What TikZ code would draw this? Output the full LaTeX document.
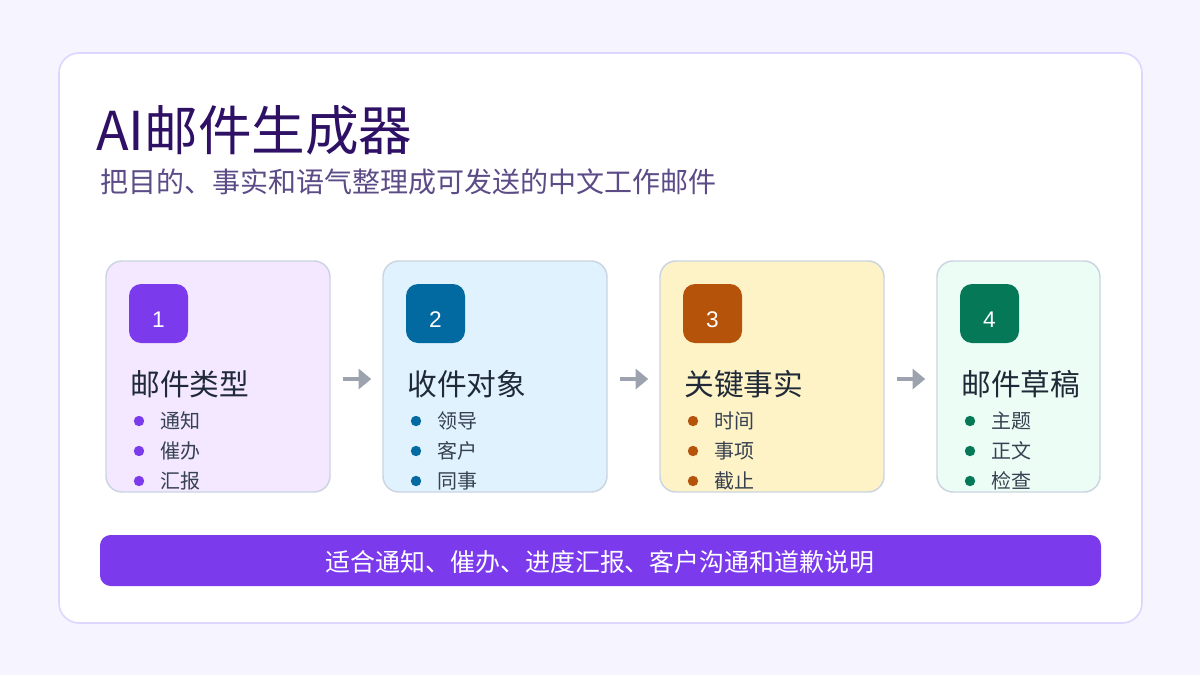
\documentclass[tikz,border=0pt]{standalone}
\usepackage{fontspec}
\setmainfont{Noto Sans CJK SC}
\newfontfamily\numfont{Liberation Sans}
\usetikzlibrary{arrows.meta,fit}
\definecolor{bg}{HTML}{F6F4FE}
\definecolor{cardline}{HTML}{DDD6FE}
\definecolor{titlec}{HTML}{2E1065}
\definecolor{subc}{HTML}{5B4B86}
\definecolor{boxline}{HTML}{CBD5E1}
\definecolor{headc}{HTML}{1F2937}
\definecolor{itemc}{HTML}{374151}
\definecolor{arrc}{HTML}{9CA3AF}
\definecolor{f1}{HTML}{F3E8FF}\definecolor{a1}{HTML}{7C3AED}
\definecolor{f2}{HTML}{E0F2FE}\definecolor{a2}{HTML}{0369A1}
\definecolor{f3}{HTML}{FEF3C7}\definecolor{a3}{HTML}{B45309}
\definecolor{f4}{HTML}{ECFDF5}\definecolor{a4}{HTML}{047857}
\tikzset{
  stepcard/.style={draw=boxline, line width=1.1pt, rounded corners=12pt, inner sep=0pt},
  badge/.style={rectangle, rounded corners=9pt, minimum size=44.25pt, inner sep=0pt},
  numtxt/.style={inner sep=0pt, text=white, font=\numfont\fontsize{17pt}{17pt}\selectfont},
  headtxt/.style={anchor=west, inner sep=0pt, text=headc, font=\fontsize{22.3pt}{22.3pt}\selectfont},
  itemtxt/.style={anchor=west, inner sep=0pt, text=itemc, font=\fontsize{15pt}{15pt}\selectfont},
  arr/.style={draw=arrc, line width=3pt, -{Triangle[length=9.5pt,width=15pt]}},
}
\begin{document}
\begin{tikzpicture}[x=0.75pt,y=-0.75pt]
\useasboundingbox[fill=bg] (0,0) rectangle (1200,675);
\node[fit={(59,53)(1142,623)}, inner sep=0pt, draw=cardline, fill=white, rounded corners=15pt, line width=1.2pt] (card) {};
\node[anchor=base west, inner sep=0pt, text=titlec, font=\fontsize{40.2pt}{40.2pt}\selectfont] (title) at (96,150) {AI邮件生成器};
\node[anchor=base west, inner sep=0pt, text=subc, font=\fontsize{21pt}{21pt}\selectfont] (subtitle) at (100,192) {把目的、事实和语气整理成可发送的中文工作邮件};
\foreach \n/\xl/\xr/\fc/\ac/\head/\ba/\bb/\bc in {
 1/106/330/f1/a1/邮件类型/通知/催办/汇报,
 2/383/607/f2/a2/收件对象/领导/客户/同事,
 3/660/884/f3/a3/关键事实/时间/事项/截止,
 4/937/1100/f4/a4/邮件草稿/主题/正文/检查}{
  \node[stepcard, fill=\fc, fit={(\xl,261)(\xr,492)}] (b\n) {};
  \node[badge, fill=\ac] (n\n) at (\xl+52.5,313.5) {};
  \node[numtxt] (t\n) at (\xl+52.5,320) {\n};
  \node[headtxt] (h\n) at (\xl+24,384) {\head};
  \foreach \i/\t in {0/\ba,1/\bb,2/\bc} {
     \fill[\ac] (\xl+33,421+30*\i) circle[radius=3.9pt];
     \node[itemtxt] (i\n-\i) at (\xl+54,421+30*\i) {\t};
  }
}
\foreach \a/\b in {1/2,2/3,3/4}
  \draw[arr, shorten <=9pt, shorten >=8.25pt] ([yshift=-1.9pt]b\a.east) -- ([yshift=-1.9pt]b\b.west);
\node[fit={(100,535)(1101,586)}, inner sep=0pt, fill=a1, rounded corners=8pt] (bar) {};
\node[inner sep=0pt, text=white, font=\fontsize{18.7pt}{18.7pt}\selectfont] (bartext) at (600,562) {适合通知、催办、进度汇报、客户沟通和道歉说明};
\end{tikzpicture}
\end{document}
